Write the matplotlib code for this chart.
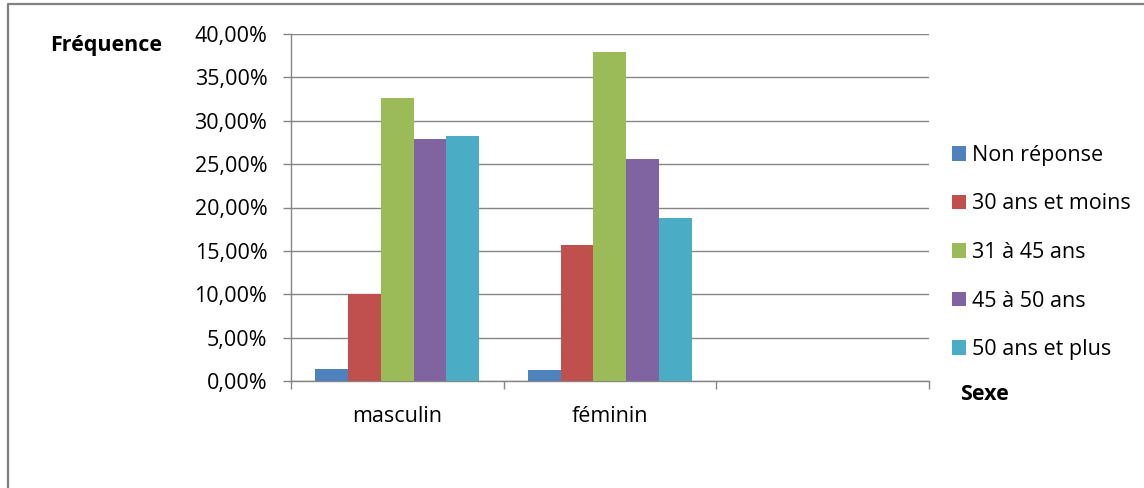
import numpy as np
import matplotlib
matplotlib.use("Agg")
import matplotlib.pyplot as plt
from matplotlib.lines import Line2D
from matplotlib.patches import Patch
from matplotlib.ticker import FuncFormatter, FixedLocator

plt.rcParams["font.family"] = ["Open Sans", "DejaVu Sans"]

# ── Data (percent) ────────────────────────────────────────────────────────────
categories = ["masculin", "féminin", ""]
series = ["Non réponse", "30 ans et moins", "31 à 45 ans", "45 à 50 ans", "50 ans et plus"]
non_reponse   = [1.4, 1.3, 0.0]
ans_30_moins  = [10.0, 15.7, 0.0]
ans_31_45     = [32.6, 37.9, 0.0]
ans_45_50     = [27.9, 25.6, 0.0]
ans_50_plus   = [28.2, 18.8, 0.0]
values = [non_reponse, ans_30_moins, ans_31_45, ans_45_50, ans_50_plus]
colors = ["#4F81BD", "#C0504D", "#9BBB59", "#8064A2", "#4BACC6"]

W, H = 1144, 488
GRID = "#868686"
FS = 15.5

fig = plt.figure(figsize=(W / 100, H / 100), dpi=100)
ax = fig.add_axes([291 / W, 1 - 381 / H, (928.5 - 291) / W, (381 - 34) / H])

x = np.arange(len(categories))
bw = 0.154
for i, (vals, col) in enumerate(zip(values, colors)):
    ax.bar(x + (i - 2) * bw, vals, bw, color=col, zorder=3, label=series[i])

ax.set_xlim(-0.5, 2.5)
ax.set_ylim(0, 40)
ax.set_yticks(np.arange(0, 41, 5))
ax.yaxis.set_major_formatter(FuncFormatter(lambda v, _: f"{v:.2f}%".replace(".", ",")))
ax.grid(axis="y", color=GRID, linewidth=1, zorder=0)

ax.set_xticks(x)
ax.set_xticklabels(categories)
ax.xaxis.set_minor_locator(FixedLocator([-0.5, 0.5, 1.5, 2.5]))
ax.tick_params(axis="x", which="major", length=0, pad=18, labelsize=FS)
ax.tick_params(axis="x", which="minor", length=6, width=1, color=GRID, direction="out")
ax.tick_params(axis="y", length=6, width=1, color=GRID, direction="out", pad=11, labelsize=FS)

for s in ["top", "right"]:
    ax.spines[s].set_visible(False)
for s in ["left", "bottom"]:
    ax.spines[s].set_color(GRID)
    ax.spines[s].set_linewidth(1)

# legend
handles = [Patch(facecolor=c, edgecolor="none") for c in colors]
fig.legend(handles, series, loc="center left", bbox_to_anchor=(952 / W, 1 - 252.5 / H),
           frameon=False, fontsize=FS, handlelength=0.65, handleheight=0.65,
           handletextpad=0.3, borderpad=0, borderaxespad=0, labelspacing=1.28)

# axis titles
fig.text(50 / W, 1 - 45 / H, "Fréquence", fontsize=FS, fontweight="bold", va="center", ha="left")
fig.text(960 / W, 1 - 394 / H, "Sexe", fontsize=FS, fontweight="bold", va="center", ha="left")

# outer frame (left + top)
fig.add_artist(Line2D([8 / W, 8 / W, 1.0], [0.0, 1 - 4 / H, 1 - 4 / H],
                      transform=fig.transFigure, color="#808080", linewidth=1.6))

fig.savefig("out.png", dpi=100)
